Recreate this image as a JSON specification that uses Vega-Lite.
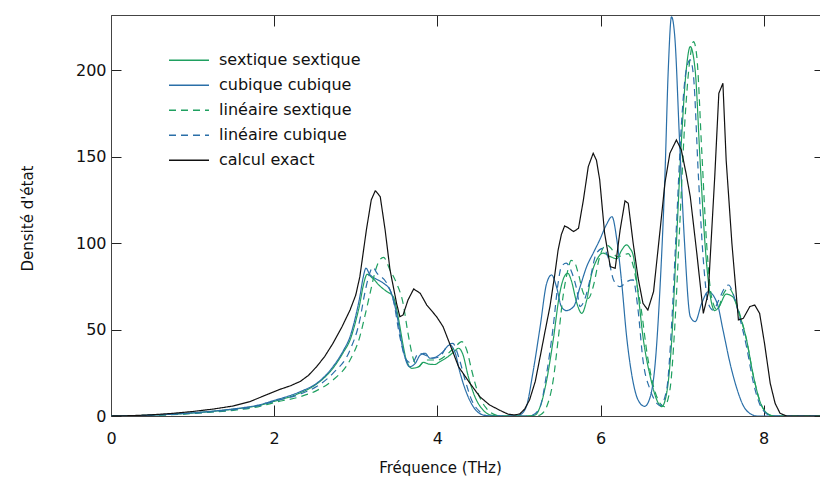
{
  "$schema": "https://vega.github.io/schema/vega-lite/v6.json",
  "width": 709,
  "height": 401,
  "autosize": {"type": "none"},
  "padding": {"left": 111, "top": 15, "right": 0, "bottom": 72},
  "background": "white",
  "config": {
    "view": {"stroke": null},
    "font": "DejaVu Sans",
    "axis": {"domainColor": "#444", "tickColor": "#222", "labelColor": "#111", "titleColor": "#111", "grid": false, "labelFont": "DejaVu Sans", "titleFont": "DejaVu Sans", "titleFontWeight": "normal", "labelFontSize": 16, "titleFontSize": 15, "domainWidth": 1, "tickWidth": 1},
    "legend": {"padding": 0, "titleFontSize": 0, "labelFont": "DejaVu Sans", "labelFontSize": 16, "labelColor": "#111", "symbolType": "stroke", "symbolSize": 1600, "symbolStrokeWidth": 1.3, "labelOffset": 9, "rowPadding": 0, "clipHeight": 24.5}
  },
  "data": {"values": [
    {"s":"sextique sextique","f":0,"d":0},{"s":"sextique sextique","f":0.3,"d":0.2},{"s":"sextique sextique","f":0.6,"d":0.7},{"s":"sextique sextique","f":0.9,"d":1.4},{"s":"sextique sextique","f":1.2,"d":2.5},{"s":"sextique sextique","f":1.5,"d":3.9},{"s":"sextique sextique","f":1.8,"d":6},{"s":"sextique sextique","f":2.0,"d":8.5},{"s":"sextique sextique","f":2.3,"d":13},{"s":"sextique sextique","f":2.52,"d":18.5},{"s":"sextique sextique","f":2.72,"d":27.6},{"s":"sextique sextique","f":2.85,"d":37},{"s":"sextique sextique","f":2.93,"d":44},{"s":"sextique sextique","f":3.0,"d":55},{"s":"sextique sextique","f":3.05,"d":65},{"s":"sextique sextique","f":3.09,"d":75},{"s":"sextique sextique","f":3.14,"d":82},{"s":"sextique sextique","f":3.2,"d":80},{"s":"sextique sextique","f":3.3,"d":75},{"s":"sextique sextique","f":3.38,"d":72},{"s":"sextique sextique","f":3.46,"d":69},{"s":"sextique sextique","f":3.5,"d":62},{"s":"sextique sextique","f":3.54,"d":52},{"s":"sextique sextique","f":3.58,"d":41},{"s":"sextique sextique","f":3.62,"d":32.4},{"s":"sextique sextique","f":3.69,"d":27.6},{"s":"sextique sextique","f":3.77,"d":28.5},{"s":"sextique sextique","f":3.83,"d":31},{"s":"sextique sextique","f":3.9,"d":30},{"s":"sextique sextique","f":3.97,"d":29.8},{"s":"sextique sextique","f":4.03,"d":31.4},{"s":"sextique sextique","f":4.13,"d":34.3},{"s":"sextique sextique","f":4.2,"d":37},{"s":"sextique sextique","f":4.26,"d":39.2},{"s":"sextique sextique","f":4.31,"d":36},{"s":"sextique sextique","f":4.38,"d":22.7},{"s":"sextique sextique","f":4.46,"d":11.2},{"s":"sextique sextique","f":4.56,"d":3.5},{"s":"sextique sextique","f":4.68,"d":0.3},{"s":"sextique sextique","f":4.8,"d":0},{"s":"sextique sextique","f":5.1,"d":0},{"s":"sextique sextique","f":5.2,"d":0.6},{"s":"sextique sextique","f":5.26,"d":5.4},{"s":"sextique sextique","f":5.34,"d":20.8},{"s":"sextique sextique","f":5.42,"d":44},{"s":"sextique sextique","f":5.5,"d":71},{"s":"sextique sextique","f":5.56,"d":81},{"s":"sextique sextique","f":5.6,"d":82.6},{"s":"sextique sextique","f":5.64,"d":78.7},{"s":"sextique sextique","f":5.71,"d":65.2},{"s":"sextique sextique","f":5.77,"d":59.4},{"s":"sextique sextique","f":5.83,"d":67},{"s":"sextique sextique","f":5.89,"d":82},{"s":"sextique sextique","f":5.95,"d":90},{"s":"sextique sextique","f":6.03,"d":94.2},{"s":"sextique sextique","f":6.12,"d":92.2},{"s":"sextique sextique","f":6.2,"d":91},{"s":"sextique sextique","f":6.26,"d":96},{"s":"sextique sextique","f":6.32,"d":99},{"s":"sextique sextique","f":6.36,"d":97},{"s":"sextique sextique","f":6.4,"d":93},{"s":"sextique sextique","f":6.46,"d":71},{"s":"sextique sextique","f":6.52,"d":46},{"s":"sextique sextique","f":6.61,"d":22.7},{"s":"sextique sextique","f":6.71,"d":7.3},{"s":"sextique sextique","f":6.75,"d":5.4},{"s":"sextique sextique","f":6.81,"d":13.1},{"s":"sextique sextique","f":6.87,"d":42},{"s":"sextique sextique","f":6.93,"d":100},{"s":"sextique sextique","f":6.99,"d":157.8},{"s":"sextique sextique","f":7.05,"d":200},{"s":"sextique sextique","f":7.1,"d":213.7},{"s":"sextique sextique","f":7.16,"d":200},{"s":"sextique sextique","f":7.22,"d":148},{"s":"sextique sextique","f":7.28,"d":100},{"s":"sextique sextique","f":7.34,"d":71},{"s":"sextique sextique","f":7.4,"d":61},{"s":"sextique sextique","f":7.45,"d":63},{"s":"sextique sextique","f":7.54,"d":70.5},{"s":"sextique sextique","f":7.62,"d":69},{"s":"sextique sextique","f":7.7,"d":59},{"s":"sextique sextique","f":7.79,"d":44},{"s":"sextique sextique","f":7.87,"d":24},{"s":"sextique sextique","f":7.95,"d":9},{"s":"sextique sextique","f":8.03,"d":2},{"s":"sextique sextique","f":8.12,"d":0},{"s":"sextique sextique","f":8.69,"d":0},

    {"s":"cubique cubique","f":0,"d":0},{"s":"cubique cubique","f":0.3,"d":0.2},{"s":"cubique cubique","f":0.6,"d":0.7},{"s":"cubique cubique","f":0.9,"d":1.5},{"s":"cubique cubique","f":1.2,"d":2.6},{"s":"cubique cubique","f":1.5,"d":4.1},{"s":"cubique cubique","f":1.8,"d":6.3},{"s":"cubique cubique","f":2.0,"d":9},{"s":"cubique cubique","f":2.32,"d":14.1},{"s":"cubique cubique","f":2.52,"d":18.9},{"s":"cubique cubique","f":2.72,"d":28.5},{"s":"cubique cubique","f":2.85,"d":38},{"s":"cubique cubique","f":2.93,"d":45.9},{"s":"cubique cubique","f":3.0,"d":58},{"s":"cubique cubique","f":3.05,"d":69},{"s":"cubique cubique","f":3.09,"d":80},{"s":"cubique cubique","f":3.125,"d":85.5},{"s":"cubique cubique","f":3.17,"d":82},{"s":"cubique cubique","f":3.22,"d":80},{"s":"cubique cubique","f":3.26,"d":79},{"s":"cubique cubique","f":3.34,"d":76.8},{"s":"cubique cubique","f":3.42,"d":72.9},{"s":"cubique cubique","f":3.5,"d":59.4},{"s":"cubique cubique","f":3.58,"d":38.2},{"s":"cubique cubique","f":3.66,"d":28.5},{"s":"cubique cubique","f":3.73,"d":30.5},{"s":"cubique cubique","f":3.79,"d":35.3},{"s":"cubique cubique","f":3.85,"d":36.3},{"s":"cubique cubique","f":3.91,"d":33.4},{"s":"cubique cubique","f":3.99,"d":34.3},{"s":"cubique cubique","f":4.07,"d":37.2},{"s":"cubique cubique","f":4.15,"d":41.1},{"s":"cubique cubique","f":4.22,"d":36.3},{"s":"cubique cubique","f":4.28,"d":24.7},{"s":"cubique cubique","f":4.36,"d":13.1},{"s":"cubique cubique","f":4.44,"d":5.4},{"s":"cubique cubique","f":4.56,"d":0.6},{"s":"cubique cubique","f":4.65,"d":0},{"s":"cubique cubique","f":4.95,"d":0},{"s":"cubique cubique","f":5.01,"d":0.6},{"s":"cubique cubique","f":5.09,"d":5.4},{"s":"cubique cubique","f":5.17,"d":24.7},{"s":"cubique cubique","f":5.26,"d":51.7},{"s":"cubique cubique","f":5.34,"d":76.8},{"s":"cubique cubique","f":5.4,"d":81.6},{"s":"cubique cubique","f":5.46,"d":74.8},{"s":"cubique cubique","f":5.52,"d":63.3},{"s":"cubique cubique","f":5.58,"d":61},{"s":"cubique cubique","f":5.67,"d":63.3},{"s":"cubique cubique","f":5.75,"d":74.8},{"s":"cubique cubique","f":5.83,"d":86.4},{"s":"cubique cubique","f":5.91,"d":94.2},{"s":"cubique cubique","f":5.99,"d":101.9},{"s":"cubique cubique","f":6.07,"d":110.5},{"s":"cubique cubique","f":6.14,"d":115.3},{"s":"cubique cubique","f":6.2,"d":101.9},{"s":"cubique cubique","f":6.26,"d":76.8},{"s":"cubique cubique","f":6.32,"d":45.9},{"s":"cubique cubique","f":6.38,"d":24.7},{"s":"cubique cubique","f":6.46,"d":9.3},{"s":"cubique cubique","f":6.54,"d":5.6},{"s":"cubique cubique","f":6.61,"d":11.2},{"s":"cubique cubique","f":6.67,"d":30.5},{"s":"cubique cubique","f":6.73,"d":75},{"s":"cubique cubique","f":6.79,"d":140},{"s":"cubique cubique","f":6.83,"d":200},{"s":"cubique cubique","f":6.87,"d":231},{"s":"cubique cubique","f":6.91,"d":219.5},{"s":"cubique cubique","f":6.97,"d":157.8},{"s":"cubique cubique","f":7.03,"d":100},{"s":"cubique cubique","f":7.1,"d":57.5},{"s":"cubique cubique","f":7.16,"d":54.6},{"s":"cubique cubique","f":7.24,"d":65.2},{"s":"cubique cubique","f":7.32,"d":71.9},{"s":"cubique cubique","f":7.43,"d":65.2},{"s":"cubique cubique","f":7.5,"d":50},{"s":"cubique cubique","f":7.59,"d":30},{"s":"cubique cubique","f":7.67,"d":16},{"s":"cubique cubique","f":7.75,"d":6},{"s":"cubique cubique","f":7.83,"d":1.5},{"s":"cubique cubique","f":7.92,"d":0},{"s":"cubique cubique","f":8.69,"d":0},

    {"s":"linéaire sextique","f":0,"d":0},{"s":"linéaire sextique","f":0.3,"d":0.15},{"s":"linéaire sextique","f":0.6,"d":0.5},{"s":"linéaire sextique","f":0.9,"d":1.1},{"s":"linéaire sextique","f":1.2,"d":2.1},{"s":"linéaire sextique","f":1.5,"d":3.3},{"s":"linéaire sextique","f":1.8,"d":5.3},{"s":"linéaire sextique","f":2.0,"d":7.8},{"s":"linéaire sextique","f":2.32,"d":11.2},{"s":"linéaire sextique","f":2.52,"d":14.7},{"s":"linéaire sextique","f":2.72,"d":20.8},{"s":"linéaire sextique","f":2.93,"d":32.4},{"s":"linéaire sextique","f":3.05,"d":45.9},{"s":"linéaire sextique","f":3.11,"d":57.5},{"s":"linéaire sextique","f":3.18,"d":72},{"s":"linéaire sextique","f":3.24,"d":84},{"s":"linéaire sextique","f":3.29,"d":90},{"s":"linéaire sextique","f":3.34,"d":91.8},{"s":"linéaire sextique","f":3.42,"d":84.5},{"s":"linéaire sextique","f":3.5,"d":76.8},{"s":"linéaire sextique","f":3.58,"d":65.2},{"s":"linéaire sextique","f":3.64,"d":47.9},{"s":"linéaire sextique","f":3.71,"d":32.4},{"s":"linéaire sextique","f":3.77,"d":28.5},{"s":"linéaire sextique","f":3.85,"d":32.4},{"s":"linéaire sextique","f":3.93,"d":32.4},{"s":"linéaire sextique","f":4.01,"d":32.4},{"s":"linéaire sextique","f":4.11,"d":35.3},{"s":"linéaire sextique","f":4.22,"d":40.1},{"s":"linéaire sextique","f":4.3,"d":43},{"s":"linéaire sextique","f":4.36,"d":38.2},{"s":"linéaire sextique","f":4.42,"d":26.6},{"s":"linéaire sextique","f":4.5,"d":13.1},{"s":"linéaire sextique","f":4.6,"d":4.5},{"s":"linéaire sextique","f":4.72,"d":0.5},{"s":"linéaire sextique","f":4.8,"d":0},{"s":"linéaire sextique","f":5.2,"d":0},{"s":"linéaire sextique","f":5.26,"d":0.6},{"s":"linéaire sextique","f":5.34,"d":5.4},{"s":"linéaire sextique","f":5.42,"d":20.8},{"s":"linéaire sextique","f":5.48,"d":44},{"s":"linéaire sextique","f":5.54,"d":69},{"s":"linéaire sextique","f":5.6,"d":84.5},{"s":"linéaire sextique","f":5.64,"d":90},{"s":"linéaire sextique","f":5.68,"d":89},{"s":"linéaire sextique","f":5.73,"d":82},{"s":"linéaire sextique","f":5.79,"d":71},{"s":"linéaire sextique","f":5.85,"d":68},{"s":"linéaire sextique","f":5.91,"d":74.8},{"s":"linéaire sextique","f":5.99,"d":92.2},{"s":"linéaire sextique","f":6.07,"d":99},{"s":"linéaire sextique","f":6.13,"d":97},{"s":"linéaire sextique","f":6.2,"d":92.2},{"s":"linéaire sextique","f":6.28,"d":93},{"s":"linéaire sextique","f":6.34,"d":94},{"s":"linéaire sextique","f":6.4,"d":87},{"s":"linéaire sextique","f":6.45,"d":75},{"s":"linéaire sextique","f":6.5,"d":61.3},{"s":"linéaire sextique","f":6.57,"d":36.3},{"s":"linéaire sextique","f":6.65,"d":17},{"s":"linéaire sextique","f":6.73,"d":7.3},{"s":"linéaire sextique","f":6.78,"d":5.4},{"s":"linéaire sextique","f":6.85,"d":15},{"s":"linéaire sextique","f":6.91,"d":51.7},{"s":"linéaire sextique","f":6.97,"d":109.5},{"s":"linéaire sextique","f":7.03,"d":167.4},{"s":"linéaire sextique","f":7.1,"d":208},{"s":"linéaire sextique","f":7.14,"d":216.6},{"s":"linéaire sextique","f":7.18,"d":208},{"s":"linéaire sextique","f":7.24,"d":154},{"s":"linéaire sextique","f":7.3,"d":100},{"s":"linéaire sextique","f":7.36,"d":69},{"s":"linéaire sextique","f":7.43,"d":61.3},{"s":"linéaire sextique","f":7.5,"d":70},{"s":"linéaire sextique","f":7.57,"d":74},{"s":"linéaire sextique","f":7.63,"d":70},{"s":"linéaire sextique","f":7.7,"d":60},{"s":"linéaire sextique","f":7.79,"d":44},{"s":"linéaire sextique","f":7.87,"d":24},{"s":"linéaire sextique","f":7.95,"d":9},{"s":"linéaire sextique","f":8.03,"d":2},{"s":"linéaire sextique","f":8.12,"d":0},{"s":"linéaire sextique","f":8.69,"d":0},

    {"s":"linéaire cubique","f":0,"d":0},{"s":"linéaire cubique","f":0.3,"d":0.15},{"s":"linéaire cubique","f":0.6,"d":0.6},{"s":"linéaire cubique","f":0.9,"d":1.3},{"s":"linéaire cubique","f":1.2,"d":2.3},{"s":"linéaire cubique","f":1.5,"d":3.6},{"s":"linéaire cubique","f":1.8,"d":5.8},{"s":"linéaire cubique","f":2.0,"d":8.5},{"s":"linéaire cubique","f":2.32,"d":12.7},{"s":"linéaire cubique","f":2.52,"d":17},{"s":"linéaire cubique","f":2.72,"d":24.7},{"s":"linéaire cubique","f":2.93,"d":38.2},{"s":"linéaire cubique","f":3.05,"d":55.6},{"s":"linéaire cubique","f":3.11,"d":71},{"s":"linéaire cubique","f":3.16,"d":81},{"s":"linéaire cubique","f":3.21,"d":86},{"s":"linéaire cubique","f":3.26,"d":82.6},{"s":"linéaire cubique","f":3.38,"d":76.8},{"s":"linéaire cubique","f":3.46,"d":67.1},{"s":"linéaire cubique","f":3.54,"d":45.9},{"s":"linéaire cubique","f":3.62,"d":32.4},{"s":"linéaire cubique","f":3.69,"d":30.5},{"s":"linéaire cubique","f":3.77,"d":36.3},{"s":"linéaire cubique","f":3.85,"d":35.3},{"s":"linéaire cubique","f":3.93,"d":33.4},{"s":"linéaire cubique","f":4.03,"d":34.3},{"s":"linéaire cubique","f":4.13,"d":41.1},{"s":"linéaire cubique","f":4.19,"d":42},{"s":"linéaire cubique","f":4.26,"d":34.3},{"s":"linéaire cubique","f":4.34,"d":20.8},{"s":"linéaire cubique","f":4.42,"d":9.3},{"s":"linéaire cubique","f":4.52,"d":2.5},{"s":"linéaire cubique","f":4.62,"d":0},{"s":"linéaire cubique","f":5.1,"d":0},{"s":"linéaire cubique","f":5.17,"d":0.6},{"s":"linéaire cubique","f":5.26,"d":5.4},{"s":"linéaire cubique","f":5.34,"d":24.7},{"s":"linéaire cubique","f":5.42,"d":51.7},{"s":"linéaire cubique","f":5.48,"d":76.8},{"s":"linéaire cubique","f":5.52,"d":86.4},{"s":"linéaire cubique","f":5.58,"d":88.4},{"s":"linéaire cubique","f":5.64,"d":84},{"s":"linéaire cubique","f":5.71,"d":72.9},{"s":"linéaire cubique","f":5.75,"d":63.3},{"s":"linéaire cubique","f":5.81,"d":68},{"s":"linéaire cubique","f":5.87,"d":78.7},{"s":"linéaire cubique","f":5.95,"d":94.2},{"s":"linéaire cubique","f":6.03,"d":97},{"s":"linéaire cubique","f":6.09,"d":92.2},{"s":"linéaire cubique","f":6.16,"d":78.7},{"s":"linéaire cubique","f":6.24,"d":74.8},{"s":"linéaire cubique","f":6.32,"d":77.7},{"s":"linéaire cubique","f":6.4,"d":78.7},{"s":"linéaire cubique","f":6.46,"d":61.3},{"s":"linéaire cubique","f":6.52,"d":32.4},{"s":"linéaire cubique","f":6.61,"d":15},{"s":"linéaire cubique","f":6.69,"d":7.3},{"s":"linéaire cubique","f":6.73,"d":6},{"s":"linéaire cubique","f":6.81,"d":15},{"s":"linéaire cubique","f":6.87,"d":51.7},{"s":"linéaire cubique","f":6.93,"d":109.5},{"s":"linéaire cubique","f":6.99,"d":167.4},{"s":"linéaire cubique","f":7.05,"d":200},{"s":"linéaire cubique","f":7.1,"d":206},{"s":"linéaire cubique","f":7.14,"d":196.4},{"s":"linéaire cubique","f":7.2,"d":138.5},{"s":"linéaire cubique","f":7.26,"d":90.3},{"s":"linéaire cubique","f":7.32,"d":65.2},{"s":"linéaire cubique","f":7.38,"d":61.3},{"s":"linéaire cubique","f":7.45,"d":67.1},{"s":"linéaire cubique","f":7.52,"d":74},{"s":"linéaire cubique","f":7.57,"d":75.8},{"s":"linéaire cubique","f":7.63,"d":70},{"s":"linéaire cubique","f":7.7,"d":58},{"s":"linéaire cubique","f":7.79,"d":40},{"s":"linéaire cubique","f":7.87,"d":20},{"s":"linéaire cubique","f":7.95,"d":7},{"s":"linéaire cubique","f":8.03,"d":1.5},{"s":"linéaire cubique","f":8.12,"d":0},{"s":"linéaire cubique","f":8.69,"d":0},

    {"s":"calcul exact","f":0,"d":0},{"s":"calcul exact","f":0.25,"d":0.2},{"s":"calcul exact","f":0.5,"d":0.7},{"s":"calcul exact","f":0.75,"d":1.5},{"s":"calcul exact","f":1.0,"d":2.6},{"s":"calcul exact","f":1.25,"d":4},{"s":"calcul exact","f":1.5,"d":5.8},{"s":"calcul exact","f":1.7,"d":8.3},{"s":"calcul exact","f":1.95,"d":13.1},{"s":"calcul exact","f":2.07,"d":15.4},{"s":"calcul exact","f":2.2,"d":17.5},{"s":"calcul exact","f":2.32,"d":20},{"s":"calcul exact","f":2.42,"d":23.5},{"s":"calcul exact","f":2.52,"d":28.5},{"s":"calcul exact","f":2.62,"d":34.5},{"s":"calcul exact","f":2.72,"d":42},{"s":"calcul exact","f":2.83,"d":51.5},{"s":"calcul exact","f":2.93,"d":61.3},{"s":"calcul exact","f":3.0,"d":70},{"s":"calcul exact","f":3.05,"d":80.6},{"s":"calcul exact","f":3.13,"d":107.6},{"s":"calcul exact","f":3.19,"d":125},{"s":"calcul exact","f":3.24,"d":130.4},{"s":"calcul exact","f":3.3,"d":126.9},{"s":"calcul exact","f":3.36,"d":107.6},{"s":"calcul exact","f":3.42,"d":84.5},{"s":"calcul exact","f":3.5,"d":65.2},{"s":"calcul exact","f":3.54,"d":57.5},{"s":"calcul exact","f":3.58,"d":58.4},{"s":"calcul exact","f":3.64,"d":67.1},{"s":"calcul exact","f":3.71,"d":73.5},{"s":"calcul exact","f":3.79,"d":71},{"s":"calcul exact","f":3.87,"d":64.2},{"s":"calcul exact","f":3.99,"d":57.5},{"s":"calcul exact","f":4.07,"d":51.7},{"s":"calcul exact","f":4.15,"d":42},{"s":"calcul exact","f":4.26,"d":28.5},{"s":"calcul exact","f":4.4,"d":18.9},{"s":"calcul exact","f":4.52,"d":11.2},{"s":"calcul exact","f":4.64,"d":6.4},{"s":"calcul exact","f":4.77,"d":3.2},{"s":"calcul exact","f":4.87,"d":1.0},{"s":"calcul exact","f":4.95,"d":0.6},{"s":"calcul exact","f":5.01,"d":1.2},{"s":"calcul exact","f":5.07,"d":4},{"s":"calcul exact","f":5.13,"d":9.3},{"s":"calcul exact","f":5.2,"d":20},{"s":"calcul exact","f":5.26,"d":34.3},{"s":"calcul exact","f":5.32,"d":49},{"s":"calcul exact","f":5.38,"d":63.3},{"s":"calcul exact","f":5.44,"d":82},{"s":"calcul exact","f":5.48,"d":96},{"s":"calcul exact","f":5.52,"d":105},{"s":"calcul exact","f":5.56,"d":110},{"s":"calcul exact","f":5.6,"d":109},{"s":"calcul exact","f":5.67,"d":106.7},{"s":"calcul exact","f":5.73,"d":108.6},{"s":"calcul exact","f":5.79,"d":125},{"s":"calcul exact","f":5.85,"d":144.3},{"s":"calcul exact","f":5.91,"d":152},{"s":"calcul exact","f":5.95,"d":148},{"s":"calcul exact","f":5.99,"d":136.6},{"s":"calcul exact","f":6.05,"d":105.7},{"s":"calcul exact","f":6.12,"d":86.4},{"s":"calcul exact","f":6.18,"d":85.5},{"s":"calcul exact","f":6.24,"d":107.6},{"s":"calcul exact","f":6.3,"d":124.5},{"s":"calcul exact","f":6.34,"d":123},{"s":"calcul exact","f":6.4,"d":100},{"s":"calcul exact","f":6.46,"d":80},{"s":"calcul exact","f":6.52,"d":65.2},{"s":"calcul exact","f":6.58,"d":61.3},{"s":"calcul exact","f":6.65,"d":72},{"s":"calcul exact","f":6.73,"d":107.6},{"s":"calcul exact","f":6.79,"d":135},{"s":"calcul exact","f":6.85,"d":152},{"s":"calcul exact","f":6.93,"d":159.7},{"s":"calcul exact","f":6.99,"d":154},{"s":"calcul exact","f":7.05,"d":140},{"s":"calcul exact","f":7.1,"d":126.9},{"s":"calcul exact","f":7.18,"d":94.2},{"s":"calcul exact","f":7.26,"d":59.4},{"s":"calcul exact","f":7.32,"d":71},{"s":"calcul exact","f":7.4,"d":138.5},{"s":"calcul exact","f":7.45,"d":186.7},{"s":"calcul exact","f":7.5,"d":192.5},{"s":"calcul exact","f":7.54,"d":148},{"s":"calcul exact","f":7.61,"d":100},{"s":"calcul exact","f":7.69,"d":55.6},{"s":"calcul exact","f":7.75,"d":56.5},{"s":"calcul exact","f":7.83,"d":63.3},{"s":"calcul exact","f":7.89,"d":64.2},{"s":"calcul exact","f":7.95,"d":59.4},{"s":"calcul exact","f":8.01,"d":42},{"s":"calcul exact","f":8.08,"d":18.9},{"s":"calcul exact","f":8.14,"d":7.3},{"s":"calcul exact","f":8.2,"d":1.6},{"s":"calcul exact","f":8.28,"d":0},{"s":"calcul exact","f":8.69,"d":0}
  ]},
  "layer": [
    {
      "transform": [{"filter": "datum.s !== 'calcul exact'"}],
      "mark": {"type": "line", "interpolate": "monotone", "strokeWidth": 1.2, "clip": true},
      "encoding": {
        "x": {"field": "f", "type": "quantitative", "scale": {"domain": [0, 8.69], "nice": false, "zero": false},
              "axis": {"orient": "bottom", "title": "Fréquence (THz)", "values": [0, 2, 4, 6, 8], "tickSize": -11, "labelPadding": 25, "labelFlush": false, "titleX": 329, "titleY": 51, "titleBaseline": "middle", "titleAlign": "center", "titleAnchor": null}},
        "y": {"field": "d", "type": "quantitative", "scale": {"domain": [0, 232], "nice": false},
              "axis": {"orient": "left", "title": "Densité d'état", "values": [0, 50, 100, 150, 200], "tickSize": -10, "labelPadding": 15, "labelFlush": false, "titleX": -84, "titleY": 203, "titleAngle": -90, "titleBaseline": "middle", "titleAlign": "center", "titleAnchor": null}},
        "color": {"field": "s", "type": "nominal", "sort": null,
                  "scale": {"domain": ["sextique sextique", "cubique cubique", "linéaire sextique", "linéaire cubique", "calcul exact"], "range": ["#1fa060", "#2a6fa8", "#1fa060", "#2a6fa8", "#111111"]},
                  "legend": {"orient": "none", "legendX": 57, "legendY": 33, "title": null}},
        "strokeDash": {"field": "s", "type": "nominal", "sort": null,
                  "scale": {"domain": ["sextique sextique", "cubique cubique", "linéaire sextique", "linéaire cubique", "calcul exact"], "range": [[1, 0], [1, 0], [7, 5], [7, 5], [1, 0]]},
                  "legend": {"orient": "none", "legendX": 57, "legendY": 33, "title": null}},
        "order": {"field": "f", "type": "quantitative"}
      }
    },
    {
      "transform": [{"filter": "datum.s === 'calcul exact'"}],
      "mark": {"type": "line", "interpolate": "linear", "strokeWidth": 1.2, "clip": true},
      "encoding": {
        "x": {"field": "f", "type": "quantitative", "axis": {"orient": "top", "labels": false, "title": null, "values": [0, 2, 4, 6, 8], "tickSize": -11}},
        "y": {"field": "d", "type": "quantitative", "axis": {"orient": "right", "labels": false, "title": null, "domain": false, "values": [0, 50, 100, 150, 200], "tickSize": -6}},
        "color": {"field": "s", "type": "nominal", "sort": null, "legend": {"orient": "none", "legendX": 57, "legendY": 33, "title": null}},
        "strokeDash": {"field": "s", "type": "nominal", "sort": null, "legend": {"orient": "none", "legendX": 57, "legendY": 33, "title": null}},
        "order": {"field": "f", "type": "quantitative"}
      }
    }
  ],
  "resolve": {"axis": {"x": "independent", "y": "independent"}}
}
